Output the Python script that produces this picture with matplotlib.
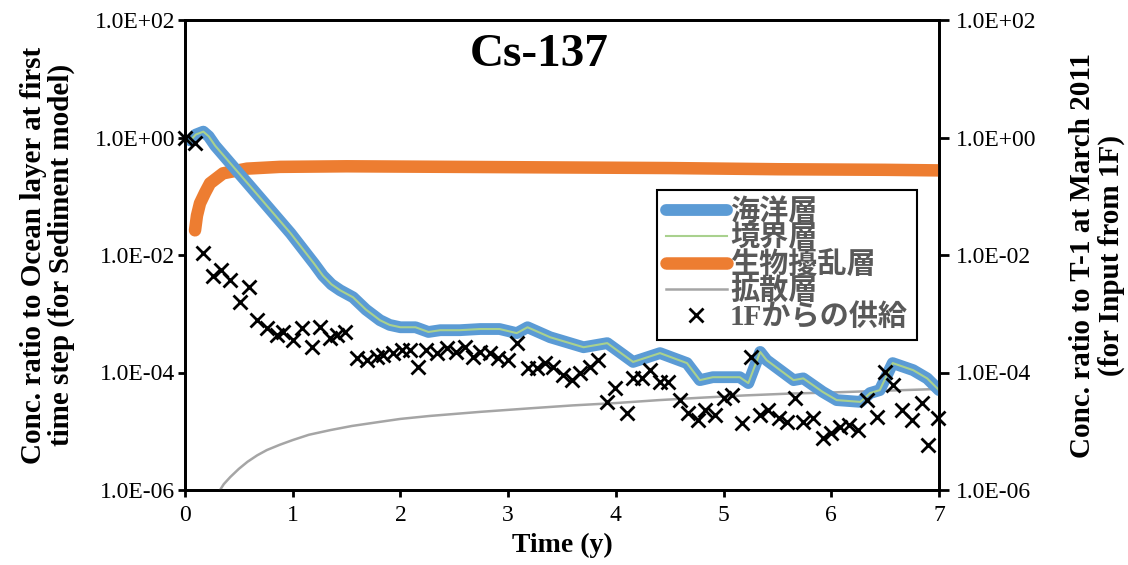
import numpy as np
import matplotlib
matplotlib.use("Agg")
from matplotlib import pyplot as plt
from matplotlib.ticker import FixedLocator, NullLocator

# ocean layer (blue) and boundary layer (green), log10 of conc. ratio
ocean_t = [0.05, 0.10, 0.17, 0.22, 0.28, 0.60, 0.98, 1.20, 1.28, 1.36, 1.44, 1.56, 1.68, 1.81,
           1.90, 2.00, 2.14, 2.26, 2.37, 2.55, 2.74, 2.92, 3.08, 3.18, 3.39, 3.70, 3.92, 4.16,
           4.41, 4.66, 4.78, 4.90, 5.15, 5.23, 5.34, 5.40, 5.65, 5.74, 5.92, 6.05, 6.27, 6.36,
           6.45, 6.57, 6.76, 6.89, 7.00]
ocean_log = [-0.05, 0.05, 0.10, 0.02, -0.14, -0.82, -1.63, -2.15, -2.35, -2.50, -2.60, -2.72,
             -2.93, -3.11, -3.19, -3.23, -3.23, -3.31, -3.28, -3.28, -3.26, -3.26, -3.33, -3.23,
             -3.40, -3.57, -3.50, -3.82, -3.67, -3.84, -4.13, -4.08, -4.08, -4.18, -3.65, -3.79,
             -4.13, -4.10, -4.33, -4.47, -4.50, -4.35, -4.30, -3.84, -3.96, -4.10, -4.30]
boundary_t = ocean_t
boundary_log = ocean_log

# bioturbation layer (orange)
bio_t = [0.093, 0.111, 0.139, 0.186, 0.232, 0.353, 0.576, 0.88, 1.5, 2.5, 3.5, 4.5, 5.5, 6.5, 7.0]
bio_log = [-1.58, -1.33, -1.12, -0.94, -0.78, -0.61, -0.53, -0.50, -0.49, -0.50, -0.51, -0.52,
           -0.54, -0.55, -0.56]

# diffusion layer (gray)
diff_t = [0.325, 0.36, 0.42, 0.50, 0.58, 0.67, 0.76, 0.88, 1.0, 1.15, 1.35, 1.55, 1.81, 2.0,
          2.27, 2.74, 3.2, 3.6, 4.0, 4.4, 4.78, 5.2, 5.6, 6.0, 6.5, 7.0]
diff_log = [-6.0, -5.9, -5.78, -5.64, -5.52, -5.41, -5.32, -5.23, -5.15, -5.06, -4.98, -4.91,
            -4.84, -4.79, -4.74, -4.67, -4.61, -4.56, -4.52, -4.47, -4.43, -4.39, -4.36, -4.34,
            -4.31, -4.28]

# supply from 1F (x markers)
supply_t = [0.0, 0.09, 0.17, 0.26, 0.33, 0.42, 0.51, 0.59, 0.67, 0.76, 0.85, 0.91, 1.0, 1.09,
            1.18, 1.25, 1.35, 1.41, 1.49, 1.60, 1.69, 1.78, 1.84, 1.93, 2.01, 2.09, 2.16, 2.24,
            2.34, 2.43, 2.52, 2.60, 2.67, 2.74, 2.83, 2.91, 3.00, 3.08, 3.18, 3.27, 3.34, 3.42,
            3.51, 3.59, 3.67, 3.76, 3.83, 3.92, 3.99, 4.10, 4.16, 4.24, 4.32, 4.41, 4.48, 4.60,
            4.67, 4.76, 4.83, 4.92, 5.00, 5.08, 5.17, 5.25, 5.34, 5.41, 5.51, 5.59, 5.66, 5.74,
            5.83, 5.92, 6.00, 6.08, 6.16, 6.25, 6.33, 6.42, 6.50, 6.57, 6.66, 6.75, 6.84, 6.90,
            6.99]
supply_log = [0.0, -0.10, -1.97, -2.35, -2.26, -2.43, -2.80, -2.55, -3.11, -3.25, -3.37, -3.31,
              -3.45, -3.25, -3.57, -3.23, -3.42, -3.37, -3.31, -3.76, -3.79, -3.74, -3.70, -3.67,
              -3.62, -3.62, -3.91, -3.62, -3.67, -3.59, -3.65, -3.57, -3.74, -3.65, -3.67, -3.76,
              -3.79, -3.50, -3.93, -3.93, -3.84, -3.91, -4.04, -4.13, -4.01, -3.91, -3.79, -4.50,
              -4.27, -4.69, -4.10, -4.10, -3.96, -4.16, -4.16, -4.47, -4.69, -4.81, -4.64, -4.72,
              -4.43, -4.38, -4.86, -3.74, -4.72, -4.64, -4.77, -4.84, -4.43, -4.84, -4.77, -5.11,
              -5.03, -4.93, -4.89, -4.98, -4.47, -4.76, -3.99, -4.21, -4.64, -4.81, -4.52, -5.23,
              -4.77]

y_ticks = [1e-6, 1e-4, 1e-2, 1e0, 1e2]
y_tick_labels = ["1.0E-06", "1.0E-04", "1.0E-02", "1.0E+00", "1.0E+02"]
x_ticks = [0, 1, 2, 3, 4, 5, 6, 7]

serif = ["Liberation Serif", "DejaVu Serif"]
jp = ["Liberation Serif", "Noto Sans CJK JP"]

fig = plt.figure(figsize=(11.28, 5.65), dpi=100)
ax = fig.add_axes([185/1128, 1-490/565, (939-185)/1128, (490-20)/565])

ax.plot(ocean_t, 10**np.array(ocean_log), color="#5B9BD5", lw=8.5, solid_capstyle="round",
        solid_joinstyle="round", label="海洋層", zorder=4)
ax.plot(boundary_t, 10**np.array(boundary_log), color="#A9D18E", lw=1.5,
        solid_joinstyle="round", label="境界層", zorder=5)
ax.plot(bio_t, 10**np.array(bio_log), color="#ED7D31", lw=9, solid_capstyle="round",
        solid_joinstyle="round", label="生物擾乱層", zorder=3)
ax.plot(diff_t, 10**np.array(diff_log), color="#A5A5A5", lw=1.8, label="拡散層", zorder=3)
ax.plot(supply_t, 10**np.array(supply_log), ls="none", marker="x", ms=10, mew=2, color="black",
        label="1Fからの供給", zorder=6, clip_on=False)

ax.set_yscale("log")
ax.set_ylim(1e-6, 1e2)
ax.set_xlim(0, 7)
ax.yaxis.set_major_locator(FixedLocator(y_ticks))
ax.yaxis.set_minor_locator(NullLocator())
ax.set_yticklabels(y_tick_labels)
ax.set_xticks(x_ticks)
for s in ax.spines.values():
    s.set_linewidth(2)
ax.tick_params(axis="y", direction="out", width=2, length=5, pad=2, labelsize=17)
ax.tick_params(axis="x", direction="out", width=2, length=5, pad=6, labelsize=17)
for lab in ax.get_xticklabels() + ax.get_yticklabels():
    lab.set_family(serif)

ax2 = ax.twinx()
ax2.set_yscale("log")
ax2.set_ylim(1e-6, 1e2)
ax2.yaxis.set_major_locator(FixedLocator(y_ticks))
ax2.yaxis.set_minor_locator(NullLocator())
ax2.set_yticklabels(y_tick_labels)
ax2.tick_params(axis="y", direction="out", width=2, length=7, pad=5, labelsize=17)
for lab in ax2.get_yticklabels():
    lab.set_family(serif)
for s in ax2.spines.values():
    s.set_linewidth(2)

ax.set_ylabel("Conc. ratio to Ocean layer at first\ntime step (for Sediment model)",
              family=serif, fontweight="bold", fontsize=21, linespacing=1.05, labelpad=14)
ax2.set_ylabel("Conc. ratio to T-1 at March 2011\n(for Input from 1F)",
               family=serif, fontweight="bold", fontsize=21, linespacing=1.05, labelpad=24)
ax.set_xlabel("Time (y)", family=serif, fontweight="bold", fontsize=20, labelpad=5)

ax.text(0.47, 0.925, "Cs-137", transform=ax.transAxes, ha="center", va="center",
        family=serif, fontweight="bold", fontsize=34)

leg = ax.legend(loc="upper left", bbox_to_anchor=((657-185)/754, (490-190)/470),
                frameon=True, fancybox=False, edgecolor="black", framealpha=1,
                prop={"family": jp, "weight": "bold", "size": 21}, handlelength=2.1,
                labelspacing=-0.06, borderpad=0.3, handletextpad=0.1, borderaxespad=0)
leg.get_frame().set_linewidth(1.5)
for t in leg.get_texts():
    t.set_color("#595959")

fig.savefig("out.png", dpi=100)
